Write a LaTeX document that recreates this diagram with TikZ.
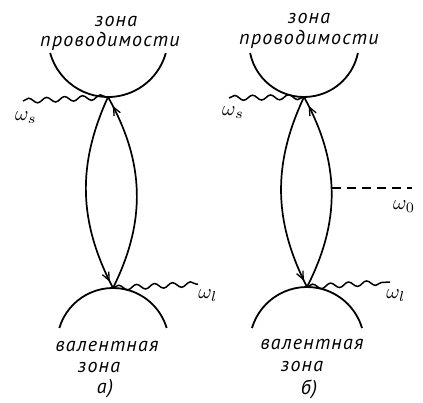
\documentclass[tikz,border=0pt]{standalone}
\usepackage{graphicx}
\usepackage{fontspec}
\newfontfamily\lblfont{PT Sans}[LetterSpace=6]
\usetikzlibrary{decorations.pathmorphing,decorations.markings,arrows.meta}
\newcommand{\omlbl}[1]{\scalebox{2.05}{$\omega_{#1}$}}
\tikzset{
  band/.style={line width=1.8pt},
  lensline/.style={line width=1.7pt},
  arrowmark/.style={postaction={decorate},decoration={markings,mark=at position #1 with {\arrow{Straight Barb[length=8pt,width=7pt,line width=1.3pt]}}}},
  wave/.style={line width=1.5pt,decorate,decoration={snake,amplitude=2.5pt,segment length=18pt}},
  lbl/.style={font=\lblfont\itshape\fontsize{20}{20}\selectfont,inner sep=0pt},
  omg/.style={inner sep=0pt}
}
\begin{document}
\begin{tikzpicture}[x=1pt,y=1pt,yscale=-1]
\useasboundingbox (0,0) rectangle (423,402);
% ---- left diagram (a)
\coordinate (Ca) at (108,37);
\coordinate (Va) at (113,344);
\coordinate (Ta) at (108,97);
\coordinate (Ba) at (113,288);
\draw[band] (Ca) ++(164.5:60) arc[start angle=164.5,end angle=15.5,radius=60];
\draw[band] (Va) ++(196.6:56) arc[start angle=196.6,end angle=343.4,radius=56];
\draw[lensline,arrowmark=0.95] (Ba) to[bend left=28] (Ta);
\draw[lensline,arrowmark=0.965] (Ta) to[bend left=26] (Ba);
\coordinate (wsa) at (23,101);
\coordinate (wla) at (198,284);
\draw[wave] (wsa) -- (Ta);
\draw[wave] (Ba) -- (wla);
\node[omg] (osa) at (26,118) {\omlbl{s}};
\node[omg] (ola) at (208,296) {\omlbl{l}};
\node[lbl] (z1a) at (116,21) {зона};
\node[lbl] (p1a) at (110,41) {проводимости};
\node[lbl] (v1a) at (107,346) {валентная};
\node[lbl] (z2a) at (99,367) {зона};
\node[lbl] (la) at (105,389) {а)};
% ---- right diagram (b)
\coordinate (Cb) at (304,42);
\coordinate (Vb) at (307,344.4);
\coordinate (Tb) at (304,97);
\coordinate (Bb) at (307,287);
\draw[band] (Cb) ++(168.5:55) arc[start angle=168.5,end angle=11.5,radius=55];
\draw[band] (Vb) ++(196.6:57.4) arc[start angle=196.6,end angle=343.4,radius=57.4];
\draw[lensline,arrowmark=0.95] (Bb) to[bend left=28] (Tb);
\draw[lensline,arrowmark=0.965] (Tb) to[bend left=26] (Bb);
\coordinate (wsb) at (229,98);
\coordinate (wlb) at (390,282);
\coordinate (dstart) at (332,188);
\coordinate (dend) at (412,188);
\draw[wave] (wsb) -- (Tb);
\draw[wave] (Bb) -- (wlb);
\draw[line width=1.3pt,dash pattern=on 9pt off 6pt] (dstart) -- (dend);
\node[omg] (osb) at (233,113) {\omlbl{s}};
\node[omg] (o0b) at (404,207) {\omlbl{0}};
\node[omg] (olb) at (396,296) {\omlbl{l}};
\node[lbl] (z1b) at (309,18) {зона};
\node[lbl] (p1b) at (309,39) {проводимости};
\node[lbl] (v1b) at (312,344) {валентная};
\node[lbl] (z2b) at (302,366) {зона};
\node[lbl] (lb) at (309,389) {б)};
\end{tikzpicture}
\end{document}
